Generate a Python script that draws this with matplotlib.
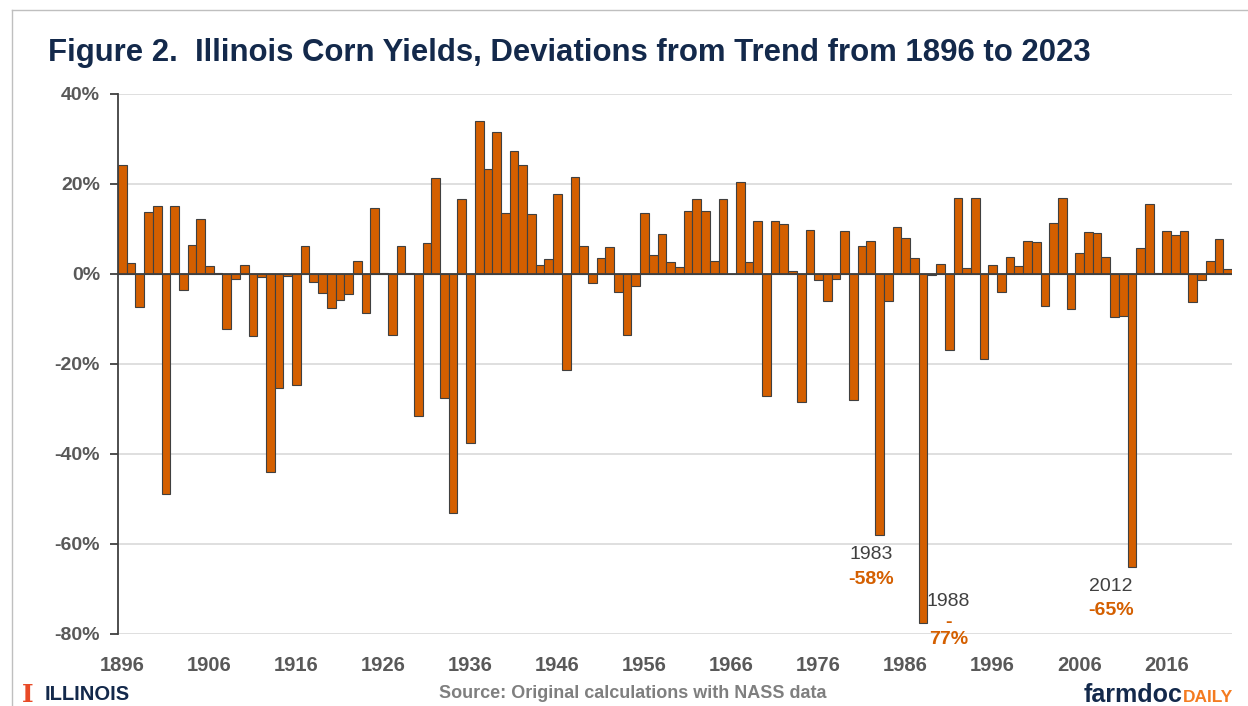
import matplotlib
matplotlib.use("Agg")
import matplotlib.pyplot as plt
from matplotlib.lines import Line2D

# Illinois corn yield deviations from trend (%), 1896-2023
years = list(range(1896, 2024))
deviations = [
    24.3, 2.4, -7.4, 13.7, 15.2, -48.8, 15.2, -3.5, 6.5, 12.2,    # 1896-1905
    1.8, 0.2, -12.3, -1.0, 2.0, -13.8, -0.7, -44.1, -25.4, -0.5,  # 1906-1915
    -24.6, 6.3, -1.7, -4.3, -7.6, -5.8, -4.5, 2.8, -8.6, 14.6,    # 1916-1925
    0.3, -13.5, 6.3, 0.2, -31.5, 6.8, 21.3, -27.5, -53.0, 16.6,   # 1926-1935
    -37.6, 33.9, 23.3, 31.5, 13.5, 27.4, 24.3, 13.3, 2.0, 3.3,    # 1936-1945
    17.8, -21.3, 21.6, 6.3, -2.1, 3.5, 6.1, -3.9, -13.5, -2.6,    # 1946-1955
    13.5, 4.2, 8.9, 2.6, 1.6, 13.9, 16.6, 14.1, 3.0, 16.6,        # 1956-1965
    0.1, 20.4, 2.6, 11.7, -27.1, 11.7, 11.2, 0.7, -28.4, 9.8,     # 1966-1975
    -1.3, -5.9, -1.0, 9.6, -28.0, 6.3, 7.4, -58.1, -6.0, 10.5,    # 1976-1985
    8.1, 3.5, -77.5, -0.2, 2.2, -16.9, 17.0, 1.3, 16.8, -18.9,    # 1986-1995
    2.0, -4.1, 3.7, 1.8, 7.4, 7.2, -7.1, 11.4, 16.8, -7.8,        # 1996-2005
    4.6, 9.4, 9.1, 3.7, -9.5, -9.3, -65.1, 5.7, 15.5, 0.2,        # 2006-2015
    9.6, 8.6, 9.6, -6.2, -1.3, 3.0, 7.7, 1.1,                     # 2016-2023
]
tick_years = list(range(1896, 2024, 10))
y_ticks = [-80, -60, -40, -20, 0, 20, 40]

# labelled drought years: (label, value text, x, y of year line, y of value line)
callouts = [
    ("1983", "-58%", 1982.0, -62.4, -67.8),
    ("2012", "-65%", 2009.6, -69.4, -74.8),
]

W, H = 1248, 706
ORANGE = "#D45F00"
NAVY = "#13294B"
GREY_TXT = "#595959"

plt.rcParams["font.family"] = ["Liberation Sans", "DejaVu Sans"]

fig = plt.figure(figsize=(W / 100, H / 100), dpi=100)
ax = fig.add_axes([118 / W, 1 - 634 / H, (1232 - 118) / W, (634 - 94) / H])

ax.bar(years, deviations, width=1.0, color=ORANGE, edgecolor="#404040",
       linewidth=0.8, zorder=3)
ax.axhline(0, color="#404040", linewidth=1.3, zorder=4)

ax.set_xlim(1895.5, 2023.5)
ax.set_ylim(-80, 40)
ax.set_yticks(y_ticks)
ax.set_yticklabels([f"{v}%" for v in y_ticks])
ax.set_xticks(tick_years)
ax.set_xticklabels([str(y) for y in tick_years])
ax.grid(axis="y", color="#D9D9D9", linewidth=1.2, zorder=0)
ax.set_axisbelow(True)

for side in ["top", "right", "bottom"]:
    ax.spines[side].set_visible(False)
ax.spines["left"].set_color("#404040")
ax.spines["left"].set_linewidth(1.3)

ax.tick_params(axis="y", length=6, width=1.3, color="#404040", pad=7,
               labelsize=14, labelcolor=GREY_TXT)
ax.tick_params(axis="x", length=0, pad=16, labelsize=14.5, labelcolor=GREY_TXT)
for lab in ax.get_xticklabels() + ax.get_yticklabels():
    lab.set_fontweight("bold")

for year_txt, val_txt, x, y1, y2 in callouts:
    ax.text(x, y1, year_txt, ha="center", va="center", fontsize=14,
            color="#404040", zorder=5)
    ax.text(x, y2, val_txt, ha="center", va="center", fontsize=14,
            color=ORANGE, fontweight="bold", zorder=5)

# 1988 label wraps onto three lines in the original
ax.text(1990.9, -72.7, "1988", ha="center", va="center", fontsize=14,
        color="#404040", zorder=5)
ax.text(1990.9, -77.4, "-", ha="center", va="center", fontsize=14,
        color=ORANGE, fontweight="bold", zorder=5, clip_on=False)
ax.text(1990.9, -81.3, "77%", ha="center", va="center", fontsize=14,
        color=ORANGE, fontweight="bold", zorder=5, clip_on=False)

# title and footer
fig.text(48 / W, 1 - 53 / H,
         "Figure 2.  Illinois Corn Yields, Deviations from Trend from 1896 to 2023",
         ha="left", va="center", fontsize=22.4, fontweight="bold", color=NAVY)
fig.text(633 / W, 1 - 694 / H, "Source: Original calculations with NASS data",
         ha="center", va="center", fontsize=13, fontweight="bold", color="#7F7F7F")
fig.text(28 / W, 1 - 695 / H, "I", ha="center", va="center", fontsize=18,
         fontweight="bold", color="#E84A27", family="DejaVu Serif")
fig.text(45 / W, 1 - 695 / H, "ILLINOIS", ha="left", va="center", fontsize=14.5,
         fontweight="bold", color=NAVY)
fig.text(1182 / W, 1 - 702 / H, "farmdoc", ha="right", va="baseline",
         fontsize=18, fontweight="bold", color=NAVY)
fig.text(1183 / W, 1 - 702 / H, "DAILY", ha="left", va="baseline",
         fontsize=12.5, fontweight="bold", color="#F47B20")

# thin slide frame along the top and left edges
fig.add_artist(Line2D([11.5 / W, 1], [1 - 9.5 / H, 1 - 9.5 / H],
                      transform=fig.transFigure, color="#BFBFBF", linewidth=1))
fig.add_artist(Line2D([11.5 / W, 11.5 / W], [0, 1 - 9.5 / H],
                      transform=fig.transFigure, color="#BFBFBF", linewidth=1))

fig.savefig("out.png", dpi=100)
